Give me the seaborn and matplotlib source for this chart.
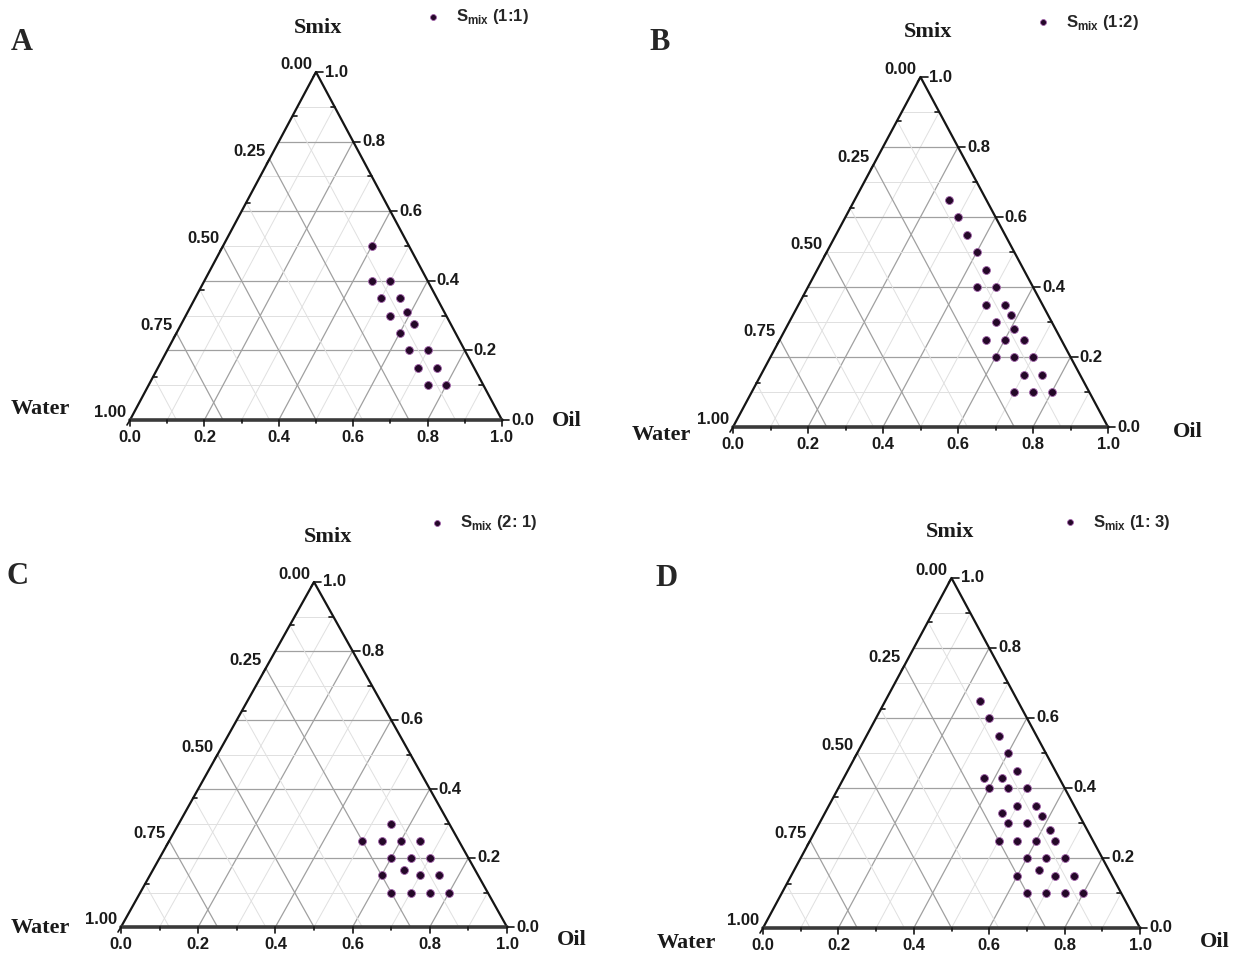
import numpy as np
import pandas as pd
import matplotlib
matplotlib.use('Agg')
import matplotlib.pyplot as plt
import seaborn as sns

sns.set_theme(style='white')
plt.rcParams['font.family'] = ['Liberation Sans', 'DejaVu Sans']
plt.rcParams['mathtext.fontset'] = 'custom'
plt.rcParams['mathtext.rm'] = 'Liberation Sans:bold'
plt.rcParams['mathtext.bf'] = 'Liberation Sans:bold'

# Microemulsion region compositions (fractions of Smix and Oil; Water = rest)
smix_a = [0.50, 0.40, 0.40, 0.35, 0.35, 0.31, 0.30, 0.275, 0.25, 0.20, 0.20, 0.15, 0.15, 0.10, 0.10]
oil_a = [0.40, 0.45, 0.50, 0.50, 0.55, 0.59, 0.55, 0.625, 0.60, 0.65, 0.70, 0.70, 0.75, 0.75, 0.80]

smix_b = [0.65, 0.60, 0.55, 0.50, 0.45, 0.40, 0.40, 0.35, 0.35, 0.32, 0.30, 0.28,
          0.25, 0.25, 0.25, 0.20, 0.20, 0.20, 0.15, 0.15, 0.10, 0.10, 0.10]
oil_b = [0.25, 0.30, 0.35, 0.40, 0.45, 0.45, 0.50, 0.50, 0.55, 0.58, 0.55, 0.61,
         0.55, 0.60, 0.65, 0.60, 0.65, 0.70, 0.70, 0.75, 0.70, 0.75, 0.80]

smix_c = [0.30, 0.25, 0.25, 0.25, 0.25, 0.20, 0.20, 0.20, 0.165, 0.15, 0.15, 0.15,
          0.10, 0.10, 0.10, 0.10]
oil_c = [0.55, 0.50, 0.55, 0.60, 0.65, 0.60, 0.65, 0.70, 0.65, 0.60, 0.70, 0.75,
         0.65, 0.70, 0.75, 0.80]

smix_d = [0.65, 0.60, 0.55, 0.50, 0.45, 0.43, 0.43, 0.40, 0.40, 0.40, 0.35, 0.35,
          0.33, 0.32, 0.30, 0.30, 0.28, 0.25, 0.25, 0.25, 0.25, 0.20, 0.20, 0.20,
          0.165, 0.15, 0.15, 0.15, 0.10, 0.10, 0.10, 0.10]
oil_d = [0.25, 0.30, 0.35, 0.40, 0.45, 0.37, 0.42, 0.40, 0.45, 0.50, 0.50, 0.55,
         0.47, 0.58, 0.50, 0.55, 0.62, 0.50, 0.55, 0.60, 0.65, 0.60, 0.65, 0.70,
         0.65, 0.60, 0.70, 0.75, 0.65, 0.70, 0.75, 0.80]

ratios = ['1:1', '1:2', '2: 1', '1: 3']
letters = ['A', 'B', 'C', 'D']
bottom_ticks = [0.0, 0.2, 0.4, 0.6, 0.8, 1.0]
right_ticks = [0.0, 0.2, 0.4, 0.6, 0.8, 1.0]
left_ticks = [0.00, 0.25, 0.50, 0.75, 1.00]

W, H = 1237, 961
fig = plt.figure(figsize=(W / 100, H / 100), dpi=100)
fig.patch.set_facecolor('white')

# triangle pixel box (left, right, base, top) and label spots
boxes = [(130, 502, 420, 72), (733, 1108, 427, 77), (121, 507, 927, 582), (763, 1140, 928, 578)]
letter_xy = [(22, 42), (660, 42), (18, 577), (667, 578)]
smix_xy = [(318, 28), (928, 32), (328, 537), (950, 532)]
water_xy = [(40, 409), (661, 435), (40, 928), (686, 943)]
oil_xy = [(567, 421), (1188, 432), (572, 940), (1215, 942)]
legend_dot = [(433, 17), (1043, 22), (437, 523), (1070, 522)]

serif = ['Liberation Serif', 'DejaVu Serif']
dot_face = '#240828'
dot_edge = '#a060a8'


def fx(x):
    return x / W


def fy(y):
    return 1 - y / H


def tern(oil, smix):
    oil = np.asarray(oil)
    smix = np.asarray(smix)
    return oil + smix / 2, smix


def draw_frame(ax, wpx, hpx):
    ux, uy = 1 / wpx, 1 / hpx
    major, minor = '#a0a0a0', '#e0e0e0'
    # grid: constant Smix (horizontal) and constant Oil
    for i in range(1, 10):
        s = i / 10
        col, lw = (major, 0.9) if i % 2 == 0 else (minor, 0.7)
        ax.plot([s / 2, 1 - s / 2], [s, s], color=col, lw=lw, zorder=1)
        ax.plot([s, s + (1 - s) / 2], [0, 1 - s], color=col, lw=lw, zorder=1)
    # grid: constant Water
    for i in range(1, 8):
        w = i / 8
        col, lw = (major, 0.9) if i % 2 == 0 else (minor, 0.7)
        ax.plot([(1 - w) / 2, 1 - w], [1 - w, 0], color=col, lw=lw, zorder=1)

    ax.plot([0, 0.5, 1], [0, 1, 0], color='#151515', lw=1.6, zorder=3, clip_on=False)
    ax.plot([0, 1], [0, 0], color='#3a3a3a', lw=2.6, zorder=3, clip_on=False)

    tk = dict(color='#151515', lw=1.2, zorder=3, clip_on=False)
    lab = dict(textcoords='offset pixels', fontsize=12, fontweight='bold',
               color='#1a1a1a', annotation_clip=False)
    # bottom axis (Oil)
    for v in bottom_ticks:
        ax.plot([v, v], [0, -6 * uy], **tk)
        ax.annotate(f'{v:.1f}', (v, 0), xytext=(0, -10), ha='center', va='top', **lab)
    for v in np.arange(0.1, 1.0, 0.2):
        ax.plot([v, v], [0, -3 * uy], **tk)
    # right axis (Smix)
    for s in right_ticks:
        x0 = 1 - s / 2
        ax.plot([x0, x0 + 7 * ux], [s, s], **tk)
        ax.annotate(f'{s:.1f}', (x0, s), xytext=(9, 0), ha='left', va='center', **lab)
    for s in np.arange(0.1, 1.0, 0.2):
        x0 = 1 - s / 2
        ax.plot([x0, x0 - 4 * ux], [s, s], **tk)
    # left axis (Water)
    for w in left_ticks:
        s = 1 - w
        ax.plot([s / 2, s / 2 - 3 * ux], [s, s - 5 * uy], **tk)
        ax.annotate(f'{w:.2f}', (s / 2, s), xytext=(-4, 3), ha='right', va='baseline', **lab)
    for w in np.arange(0.125, 1.0, 0.25):
        s = 1 - w
        ax.plot([s / 2, s / 2 + 4 * ux], [s, s], **tk)


panel_data = [(oil_a, smix_a), (oil_b, smix_b), (oil_c, smix_c), (oil_d, smix_d)]

for k, (oil, smix) in enumerate(panel_data):
    left, right, base, top = boxes[k]
    ax = fig.add_axes([fx(left), fy(base), (right - left) / W, (base - top) / H])
    draw_frame(ax, right - left, base - top)

    x, y = tern(oil, smix)
    df = pd.DataFrame({'x': x, 'y': y})
    sns.scatterplot(data=df, x='x', y='y', ax=ax, color=dot_face, edgecolor=dot_edge,
                    linewidth=0.6, s=32, zorder=5, label=r'S$_{\rm mix}$ (' + ratios[k] + ')')
    ax.set_xlim(0, 1)
    ax.set_ylim(0, 1)
    ax.axis('off')

    dx, dy = legend_dot[k]
    ax.legend(loc='center left', bbox_to_anchor=(fx(dx - 6.7), fy(dy)), bbox_transform=fig.transFigure,
              frameon=False, handlelength=0.8, handletextpad=1.0, borderpad=0, borderaxespad=0,
              markerscale=0.75, prop={'weight': 'bold', 'size': 12})

    fig.text(fx(letter_xy[k][0]), fy(letter_xy[k][1]), letters[k], family=serif,
             fontweight='bold', fontsize=22, ha='center', va='center')
    for txt, (px, py) in [('Smix', smix_xy[k]), ('Water', water_xy[k]), ('Oil', oil_xy[k])]:
        fig.text(fx(px), fy(py), txt, family=serif, fontweight='bold', fontsize=16,
                 ha='center', va='center', color='#1a1a1a')

fig.savefig('out.png', dpi=100, facecolor='white')
